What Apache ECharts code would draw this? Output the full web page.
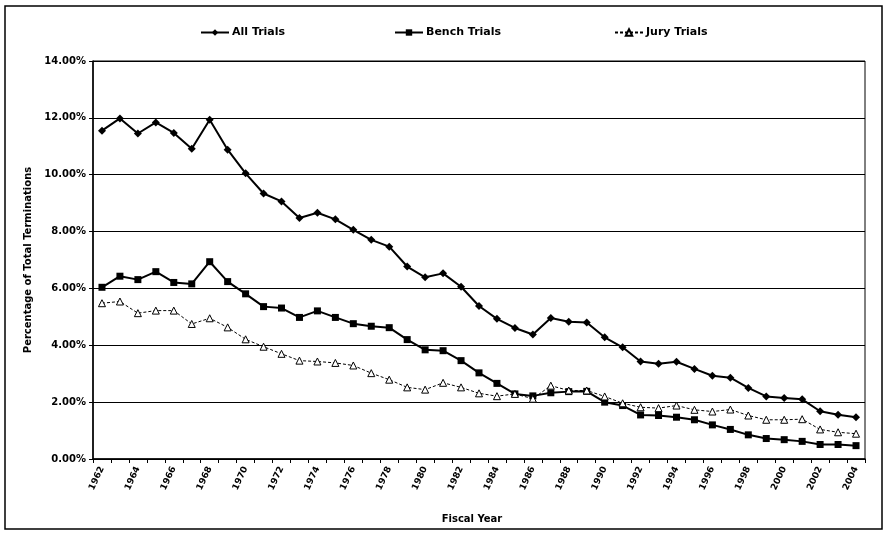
<!DOCTYPE html>
<html>
<head>
<meta charset="utf-8">
<script src="https://cdn.jsdelivr.net/npm/echarts@6/dist/echarts.min.js"></script>
<style>
html,body{margin:0;padding:0;background:#fff;}
#main{width:887px;height:539px;}
</style>
</head>
<body>
<div id="main"></div>
<script>
const years = [];
for (let y = 1962; y <= 2004; y++) years.push(String(y));

const allTrials = [11.55, 11.98, 11.45, 11.84, 11.47, 10.91, 11.93, 10.88, 10.05, 9.34,
  9.06, 8.48, 8.66, 8.43, 8.06, 7.71, 7.47, 6.77, 6.39, 6.53,
  6.06, 5.38, 4.93, 4.61, 4.38, 4.96, 4.83, 4.80, 4.28, 3.93,
  3.43, 3.35, 3.42, 3.17, 2.93, 2.86, 2.50, 2.20, 2.15, 2.10,
  1.68, 1.56, 1.47];

const benchTrials = [6.04, 6.43, 6.31, 6.59, 6.21, 6.16, 6.94, 6.24, 5.81, 5.36,
  5.31, 4.98, 5.21, 4.98, 4.76, 4.67, 4.62, 4.20, 3.84, 3.81,
  3.46, 3.03, 2.66, 2.29, 2.22, 2.33, 2.37, 2.38, 2.00, 1.88,
  1.55, 1.53, 1.47, 1.38, 1.20, 1.04, 0.85, 0.72, 0.68, 0.62,
  0.51, 0.51, 0.47];

const juryTrials = [5.48, 5.54, 5.13, 5.22, 5.22, 4.75, 4.95, 4.63, 4.21, 3.95,
  3.70, 3.46, 3.43, 3.38, 3.29, 3.02, 2.79, 2.52, 2.44, 2.68,
  2.52, 2.31, 2.21, 2.29, 2.12, 2.58, 2.41, 2.41, 2.20, 1.96,
  1.82, 1.79, 1.88, 1.73, 1.67, 1.74, 1.53, 1.38, 1.38, 1.40,
  1.04, 0.94, 0.89];

const seriesNames = ['All Trials', 'Bench Trials', 'Jury Trials'];
const yTicks = { min: 0, max: 14, interval: 2 };

const FONT = '"DejaVu Sans", Verdana, sans-serif';
const chart = echarts.init(document.getElementById('main'), null, { renderer: 'canvas' });

const legendText = { fontFamily: FONT, fontWeight: 'bold', fontSize: 11, color: '#000' };

chart.setOption({
  animation: false,
  backgroundColor: '#fff',
  textStyle: { fontFamily: FONT },
  graphic: [{
    type: 'rect',
    shape: { x: 5, y: 6, width: 877, height: 523 },
    style: { fill: 'none', stroke: '#000', lineWidth: 1.5 },
    z: -1
  }],
  legend: [
    { data: [seriesNames[0]], left: 195, top: 22, itemWidth: 28, itemHeight: 8, itemGap: 3, textStyle: Object.assign({padding: [0,0,0,-2]}, legendText) },
    { data: [seriesNames[1]], left: 389, top: 22, itemWidth: 28, itemHeight: 8, itemGap: 3, textStyle: Object.assign({padding: [0,0,0,-2]}, legendText) },
    { data: [seriesNames[2]], left: 609, top: 22, itemWidth: 28, itemHeight: 8, itemGap: 3, textStyle: Object.assign({padding: [0,0,0,-2]}, legendText) }
  ],
  grid: {
    left: 93, top: 61, right: 22, bottom: 80,
    show: true, borderColor: '#000', borderWidth: 1
  },
  xAxis: {
    type: 'category',
    data: years,
    boundaryGap: true,
    name: 'Fiscal Year',
    nameLocation: 'middle',
    nameGap: 55,
    nameTextStyle: { fontFamily: FONT, fontWeight: 'bold', fontSize: 10, color: '#000', padding: [0, 14, 0, 0] },
    axisLine: { lineStyle: { color: '#000', width: 1.5 } },
    axisTick: { show: true, interval: 0, length: 4, lineStyle: { color: '#000' } },
    axisLabel: {
      interval: 1, rotate: 65, fontFamily: FONT, fontWeight: 'bold', fontSize: 9,
      color: '#000', margin: 8
    },
    splitLine: { show: false }
  },
  yAxis: {
    type: 'value',
    min: yTicks.min, max: yTicks.max, interval: yTicks.interval,
    name: 'Percentage of Total Terminations',
    nameLocation: 'middle',
    nameGap: 56,
    nameTextStyle: { fontFamily: FONT, fontWeight: 'bold', fontSize: 10, color: '#000' },
    axisLine: { show: true, lineStyle: { color: '#000', width: 1.5 } },
    axisTick: { show: true, length: 4, lineStyle: { color: '#000' } },
    axisLabel: {
      formatter: v => v.toFixed(2) + '%',
      fontFamily: FONT, fontWeight: 'bold', fontSize: 10, color: '#000', margin: 7
    },
    splitLine: { show: true, lineStyle: { color: '#000', width: 1.2 } }
  },
  series: [
    {
      name: seriesNames[0], type: 'line', data: allTrials,
      symbol: 'diamond', symbolSize: 8,
      lineStyle: { color: '#000', width: 2 },
      itemStyle: { color: '#000' }
    },
    {
      name: seriesNames[1], type: 'line', data: benchTrials,
      symbol: 'rect', symbolSize: 7,
      lineStyle: { color: '#000', width: 2 },
      itemStyle: { color: '#000' }
    },
    {
      name: seriesNames[2], type: 'line', data: juryTrials,
      symbol: 'triangle', symbolSize: 7,
      lineStyle: { color: '#000', width: 1, type: [3, 2] },
      itemStyle: { color: '#fff', borderColor: '#000', borderWidth: 1 }
    }
  ]
});
</script>
</body>
</html>
